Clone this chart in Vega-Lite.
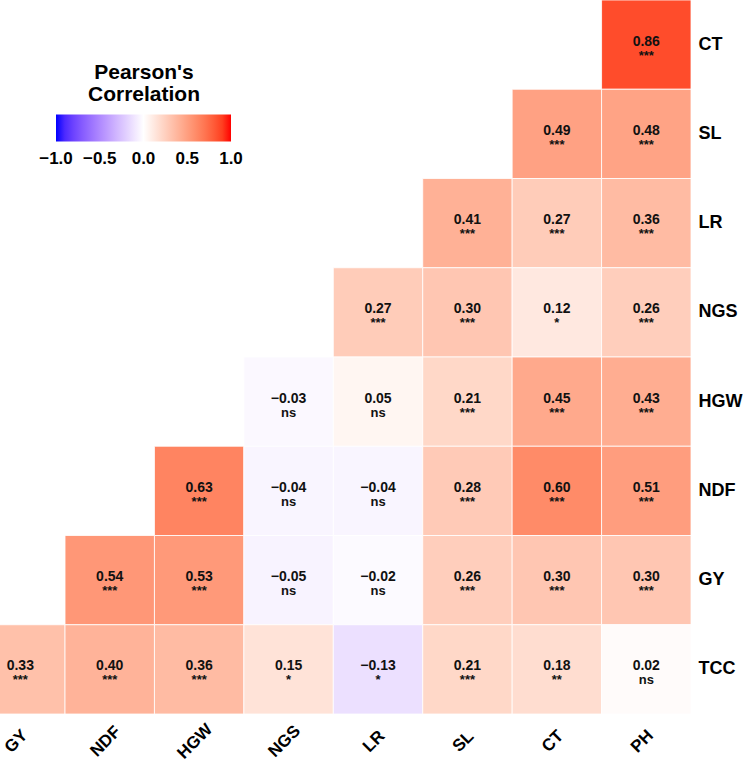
{
  "$schema": "https://vega.github.io/schema/vega-lite/v6.json",
  "width": 691,
  "height": 714,
  "autosize": "none",
  "padding": {"left": 0, "top": 0, "right": 53, "bottom": 54},
  "background": "white",
  "config": {"font": "Liberation Sans", "view": {"stroke": null}},
  "data": {"values": [
    {"row": "CT", "col": "PH", "r": 0.86, "sig": "***"},
    {"row": "SL", "col": "CT", "r": 0.49, "sig": "***"},
    {"row": "SL", "col": "PH", "r": 0.48, "sig": "***"},
    {"row": "LR", "col": "SL", "r": 0.41, "sig": "***"},
    {"row": "LR", "col": "CT", "r": 0.27, "sig": "***"},
    {"row": "LR", "col": "PH", "r": 0.36, "sig": "***"},
    {"row": "NGS", "col": "LR", "r": 0.27, "sig": "***"},
    {"row": "NGS", "col": "SL", "r": 0.30, "sig": "***"},
    {"row": "NGS", "col": "CT", "r": 0.12, "sig": "*"},
    {"row": "NGS", "col": "PH", "r": 0.26, "sig": "***"},
    {"row": "HGW", "col": "NGS", "r": -0.03, "sig": "ns"},
    {"row": "HGW", "col": "LR", "r": 0.05, "sig": "ns"},
    {"row": "HGW", "col": "SL", "r": 0.21, "sig": "***"},
    {"row": "HGW", "col": "CT", "r": 0.45, "sig": "***"},
    {"row": "HGW", "col": "PH", "r": 0.43, "sig": "***"},
    {"row": "NDF", "col": "HGW", "r": 0.63, "sig": "***"},
    {"row": "NDF", "col": "NGS", "r": -0.04, "sig": "ns"},
    {"row": "NDF", "col": "LR", "r": -0.04, "sig": "ns"},
    {"row": "NDF", "col": "SL", "r": 0.28, "sig": "***"},
    {"row": "NDF", "col": "CT", "r": 0.60, "sig": "***"},
    {"row": "NDF", "col": "PH", "r": 0.51, "sig": "***"},
    {"row": "GY", "col": "NDF", "r": 0.54, "sig": "***"},
    {"row": "GY", "col": "HGW", "r": 0.53, "sig": "***"},
    {"row": "GY", "col": "NGS", "r": -0.05, "sig": "ns"},
    {"row": "GY", "col": "LR", "r": -0.02, "sig": "ns"},
    {"row": "GY", "col": "SL", "r": 0.26, "sig": "***"},
    {"row": "GY", "col": "CT", "r": 0.30, "sig": "***"},
    {"row": "GY", "col": "PH", "r": 0.30, "sig": "***"},
    {"row": "TCC", "col": "GY", "r": 0.33, "sig": "***"},
    {"row": "TCC", "col": "NDF", "r": 0.40, "sig": "***"},
    {"row": "TCC", "col": "HGW", "r": 0.36, "sig": "***"},
    {"row": "TCC", "col": "NGS", "r": 0.15, "sig": "*"},
    {"row": "TCC", "col": "LR", "r": -0.13, "sig": "*"},
    {"row": "TCC", "col": "SL", "r": 0.21, "sig": "***"},
    {"row": "TCC", "col": "CT", "r": 0.18, "sig": "**"},
    {"row": "TCC", "col": "PH", "r": 0.02, "sig": "ns"}
  ]},
  "encoding": {
    "x": {
      "field": "col", "type": "nominal",
      "sort": ["GY", "NDF", "HGW", "NGS", "LR", "SL", "CT", "PH"],
      "scale": {"range": [-24.4, 691], "paddingInner": 0, "paddingOuter": 0},
      "axis": {
        "title": null, "orient": "bottom", "domain": false, "ticks": false, "grid": false,
        "labelAngle": -45, "labelAlign": "center", "labelBaseline": "middle",
        "labelPadding": 27, "labelOffset": -4,
        "labelFontSize": 17, "labelFontWeight": "bold", "labelColor": "black"
      }
    },
    "y": {
      "field": "row", "type": "nominal",
      "sort": ["CT", "SL", "LR", "NGS", "HGW", "NDF", "GY", "TCC"],
      "scale": {"paddingInner": 0, "paddingOuter": 0},
      "axis": {
        "title": null, "orient": "right", "domain": false, "ticks": false, "grid": false,
        "labelPadding": 7, "labelFontSize": 18, "labelFontWeight": "bold", "labelColor": "black"
      }
    }
  },
  "layer": [
    {
      "mark": {"type": "rect", "stroke": "white", "strokeWidth": 0.8, "clip": true},
      "encoding": {
        "color": {
          "field": "r", "type": "quantitative",
          "scale": {"domain": [-1, 0, 1], "range": ["#0000FF", "#FFFFFF", "#FF0000"], "interpolate": "lab"},
          "legend": {
            "title": ["Pearson's", "Correlation"],
            "orient": "none", "legendX": 56, "legendY": 62,
            "direction": "horizontal",
            "gradientLength": 175, "gradientThickness": 27,
            "gradientStrokeWidth": 0,
            "values": [-1, -0.5, 0, 0.5, 1], "format": ".1f",
            "titleFontSize": 21, "titleFontWeight": "bold", "titleColor": "black",
            "titleAnchor": "middle", "titleAlign": "center", "titleLineHeight": 21.6, "titlePadding": 10,
            "labelFontSize": 17, "labelFontWeight": "bold", "labelColor": "black",
            "labelAlign": "center", "labelOffset": 9, "labelOverlap": false,
            "encode": {"labels": {"update": {"align": {"value": "center"}}}}
          }
        }
      }
    },
    {
      "mark": {"type": "text", "fontSize": 14, "fontWeight": "bold", "color": "#111111", "baseline": "alphabetic", "dy": 1},
      "encoding": {"text": {"field": "r", "type": "quantitative", "format": ".2f"}}
    },
    {
      "mark": {"type": "text", "fontSize": 13, "fontWeight": "bold", "color": "#111111", "baseline": "alphabetic", "dy": 15},
      "encoding": {"text": {"field": "sig", "type": "nominal"}}
    }
  ]
}
